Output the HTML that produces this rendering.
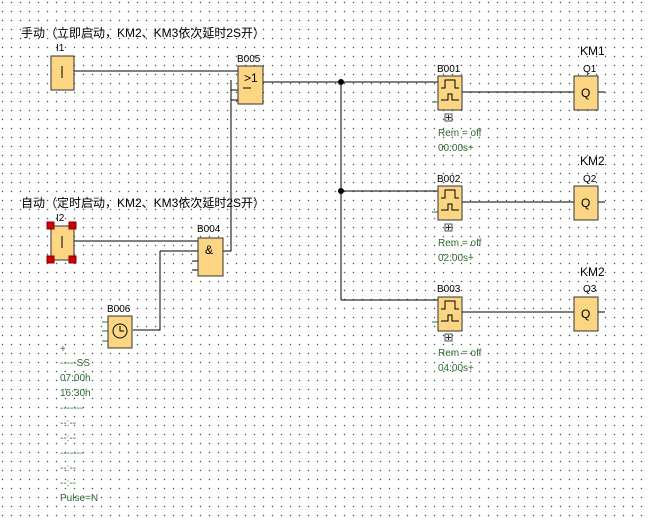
<!DOCTYPE html>
<html><head><meta charset="utf-8"><style>
html,body{margin:0;padding:0;background:#fff;}
body{width:649px;height:522px;overflow:hidden;
background-image:radial-gradient(circle,#555 0.6px,transparent 0.9px);background-size:9px 9px;background-position:-2px -2px;}
svg{position:absolute;left:0;top:0;}
text{font-family:"Liberation Sans","Noto Sans CJK SC",sans-serif;}
</style></head><body>
<svg width="649" height="522" xmlns="http://www.w3.org/2000/svg">
<g font-size="11" fill="#000">
<text x="21" y="37" font-size="12">手动（立即启动，KM2、KM3依次延时2S开）</text>
<text x="21" y="207" font-size="12">自动（定时启动，KM2、KM3依次延时2S开）</text>
<text x="56" y="51" font-size="10">I1</text>
<text x="56" y="221" font-size="10">I2</text>
<text x="237" y="62" font-size="10">B005</text>
<text x="197" y="232" font-size="10">B004</text>
<text x="107" y="312" font-size="10">B006</text>
<text x="437" y="72" font-size="10">B001</text>
<text x="437" y="182" font-size="10">B002</text>
<text x="437" y="292" font-size="10">B003</text>
<text x="580" y="55" font-size="12">KM1</text>
<text x="580" y="165" font-size="12">KM2</text>
<text x="580" y="276" font-size="12">KM2</text>
<text x="583" y="72" font-size="10">Q1</text>
<text x="583" y="182" font-size="10">Q2</text>
<text x="583" y="292" font-size="10">Q3</text>
</g>
<g stroke="#000" stroke-width="1" fill="none">
<path d="M74 71H238M231 80V251H223M263 82H438M341 82V300M341 191H438M341 300H438M462 92H574M462 202H574M462 312H574M598 92H605M598 202H605M598 312H605M74 241H198M160 251H198M160 251V330H133"/>
<path d="M231 90H238M231 100H238M192 261H198M192 270H198"/>
</g>
<g stroke="#2a7a2a" fill="none"><path d="M432 102H438M432 212H438M432 322H438M102 322H108M102 331H108M102 341H108"/></g>
<circle cx="341" cy="82" r="3" fill="#000"/>
<circle cx="341" cy="191" r="3" fill="#000"/>
<g fill="#fcd683" stroke="#333">
<rect x="51" y="56" width="23" height="34"/>
<rect x="51" y="226" width="23" height="34"/>
<rect x="238" y="66" width="25" height="38"/>
<rect x="198" y="238" width="25" height="38"/>
<rect x="108" y="316" width="24" height="32"/>
<rect x="438" y="76" width="24" height="34"/>
<rect x="438" y="186" width="24" height="34"/>
<rect x="438" y="297" width="24" height="34"/>
<rect x="574" y="76" width="24" height="34"/>
<rect x="574" y="186" width="24" height="34"/>
<rect x="574" y="297" width="24" height="34"/>
</g>
<g fill="#d00000" stroke="#800">
<rect x="47" y="222" width="7" height="7"/><rect x="69" y="222" width="7" height="7"/>
<rect x="47" y="256" width="7" height="7"/><rect x="69" y="256" width="7" height="7"/>
</g>
<g stroke="#000" fill="none">
<path d="M62 66V78M62 236V248"/>
<path d="M243 88H251"/>
<circle cx="120" cy="331" r="7"/><path d="M120 326V331H124"/>
<g id="p"><path d="M441 88H445V80H455V88H459M441 100H448V94H452V100H459"/></g>
<use href="#p" y="110"/><use href="#p" y="221"/>
</g>
<g font-size="12" fill="#000">
<text x="244" y="82">&gt;1</text>
<text x="205" y="254">&amp;</text>
<text x="581" y="97">Q</text><text x="581" y="207">Q</text><text x="581" y="318">Q</text>
</g>
<g stroke="#555" fill="#eee"><rect x="445" y="114" width="7" height="7"/><rect x="445" y="224" width="7" height="7"/><rect x="445" y="334" width="7" height="7"/></g>
<g stroke="#333"><path d="M446 117.5H451M448.5 115V120M446 227.5H451M448.5 225V230M446 337.5H451M448.5 335V340"/></g>
<g font-size="10" fill="#2e6b2e">
<text x="438" y="136">Rem = off</text><text x="438" y="151">00:00s+</text>
<text x="438" y="246">Rem = off</text><text x="438" y="261">02:00s+</text>
<text x="438" y="356">Rem = off</text><text x="438" y="371">04:00s+</text>
<text x="60" y="352">+</text>
<text x="60" y="366">-----SS</text>
<text x="60" y="381">07:00h</text>
<text x="60" y="396">16:30h</text>
<text x="60" y="411">-------</text>
<text x="60" y="426">--:--</text>
<text x="60" y="441">--:--</text>
<text x="60" y="456">-------</text>
<text x="60" y="471">--:--</text>
<text x="60" y="486">--:--</text>
<text x="60" y="501">Pulse=N</text>
</g>
</svg>
</body></html>
